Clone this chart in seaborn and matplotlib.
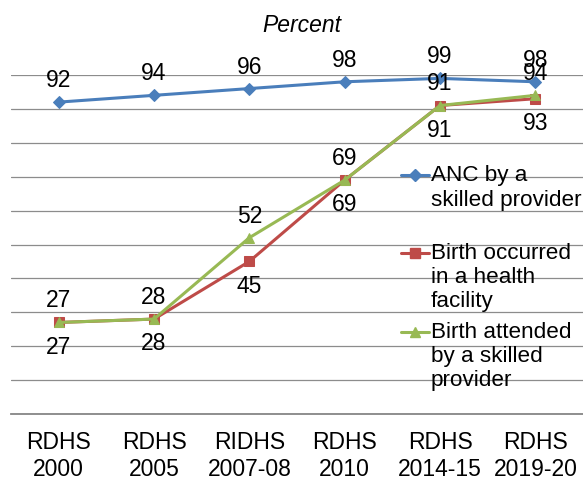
import numpy as np
import pandas as pd
import matplotlib
matplotlib.use("Agg")
import matplotlib.pyplot as plt
import seaborn as sns
from matplotlib.lines import Line2D

# ---- data ----
categories = ["RDHS\n2000", "RDHS\n2005", "RIDHS\n2007-08", "RDHS\n2010", "RDHS\n2014-15", "RDHS\n2019-20"]
anc_skilled = [92, 94, 96, 98, 99, 98]
birth_facility = [27, 28, 45, 69, 91, 93]
birth_attended = [27, 28, 52, 69, 91, 94]
series_names = ["ANC by a\nskilled provider", "Birth occurred\nin a health\nfacility", "Birth attended\nby a skilled\nprovider"]

sns.set_theme(style="white")
plt.rcParams["font.family"] = ["Liberation Sans", "DejaVu Sans"]

W, H = 583, 480
fig = plt.figure(figsize=(W / 100, H / 100), dpi=100)
ax = fig.add_axes([11 / W, 1 - 414 / H, 1 - 11 / W, (414 - 75) / H])

colors = ["#4A7EBB", "#BE4B48", "#98B954"]
markers = ["D", "s", "^"]
msizes = [6, 6.5, 7.5]
label_off = [15.5, -17.7, 15.5]
all_vals = [anc_skilled, birth_facility, birth_attended]

xpos = np.arange(len(categories))
for vals, c, m, ms in zip(all_vals, colors, markers, msizes):
    df = pd.DataFrame({"x": xpos, "y": vals})
    sns.lineplot(data=df, x="x", y="y", ax=ax, color=c, marker=m, markersize=ms,
                 markeredgecolor=c, linewidth=2.2, legend=False, clip_on=False)

for vals, d in zip(all_vals, label_off):
    for xi, v in zip(xpos, vals):
        ax.annotate(str(v), (xi, v), xytext=(0, d), textcoords="offset points",
                    ha="center", va="center", fontsize=16.5, color="#000000",
                    annotation_clip=False)

ax.set_xlim(-0.5, len(categories) - 0.5)
ax.set_ylim(0, 100)
ax.set_yticks(np.arange(0, 101, 10))
ax.set_yticklabels([])
ax.yaxis.grid(True, color="#8C8C8C", linewidth=0.9)
ax.xaxis.grid(False)
ax.set_xticks(xpos)
ax.set_xticklabels(categories, fontsize=16.5, color="#000000", linespacing=1.22)
ax.tick_params(axis="x", length=0, pad=12)
ax.tick_params(axis="y", length=0)
ax.set_xlabel("")
ax.set_ylabel("")
for s in ["left", "right", "top"]:
    ax.spines[s].set_visible(False)
ax.spines["bottom"].set_color("#868686")
ax.spines["bottom"].set_linewidth(1.3)

fig.text(302 / W, 1 - 26 / H, "Percent", style="italic", ha="center", va="center",
         fontsize=16.5, color="#000000")

# manual legend (marker aligned with first text line)
leg_y = [175, 253, 332]
leg_ls = [1.22, 1.18, 1.18]
for name, c, m, ms, y, ls in zip(series_names, colors, markers, msizes, leg_y, leg_ls):
    fig.add_artist(Line2D([401 / W, 429 / W], [1 - y / H, 1 - y / H], transform=fig.transFigure,
                          color=c, linewidth=2.2, marker=None))
    fig.add_artist(Line2D([415 / W], [1 - y / H], transform=fig.transFigure,
                          color=c, marker=m, markersize=ms, markeredgecolor=c, linestyle="none"))
    fig.text(431 / W, 1 - (y - 10) / H, name, ha="left", va="top", fontsize=16.2,
             color="#000000", linespacing=ls)

fig.savefig("out.png", dpi=100)
